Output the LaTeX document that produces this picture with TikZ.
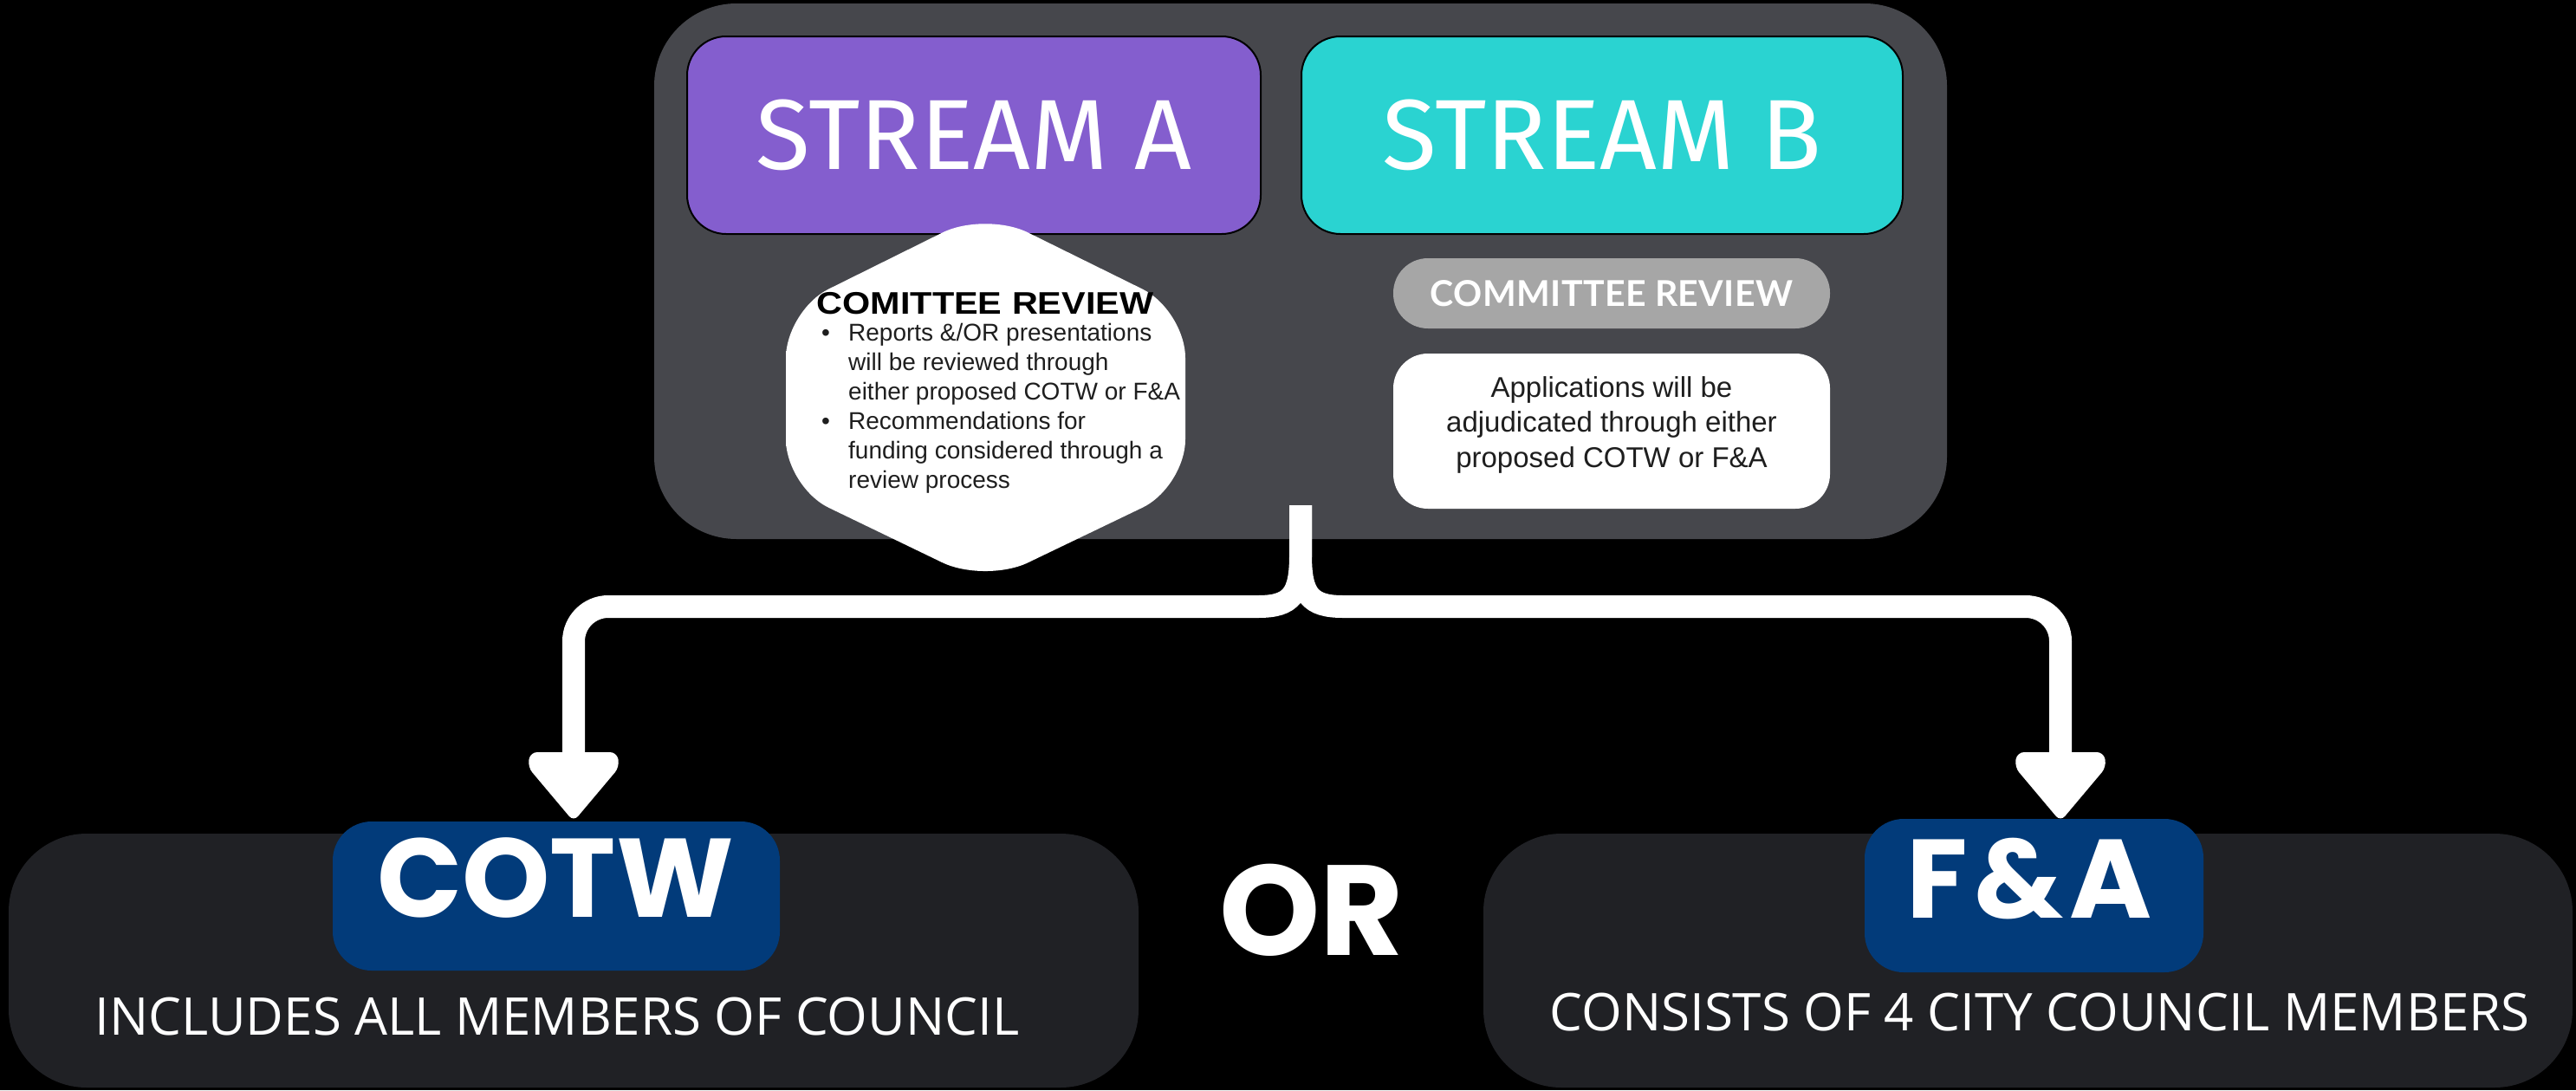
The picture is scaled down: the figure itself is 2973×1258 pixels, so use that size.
\documentclass[tikz,border=0pt]{standalone}
\usepackage{fontspec}
\setmainfont{Liberation Sans}
\newfontfamily\streamfont{Fira Sans}
\newfontfamily\hexfont{Liberation Sans}[FakeStretch=1.15]
\newfontfamily\pillfont{Lato}[LetterSpace=1]
\newfontfamily\geofont{Poppins}
\newfontfamily\geowidefont{Poppins}[LetterSpace=6]
\newfontfamily\osfont{Open Sans}
\definecolor{panelgray}{RGB}{70,71,76}
\definecolor{streamAcol}{RGB}{132,94,206}
\definecolor{streamBcol}{RGB}{42,211,209}
\definecolor{pillgray}{RGB}{166,166,166}
\definecolor{boxdark}{RGB}{32,33,37}
\definecolor{navy}{RGB}{2,59,122}
\definecolor{bodytext}{RGB}{30,30,30}
\tikzset{
  shapebox/.style={rectangle, inner sep=0pt, outer sep=0pt},
  panelbox/.style={shapebox, fill=panelgray, minimum width=1492pt, minimum height=618pt, rounded corners=95pt},
  streambox/.style={shapebox, draw=black, line width=2pt, minimum height=228pt, rounded corners=45pt, text=white,
    font={\streamfont\fontsize{115}{120}\selectfont}},
  pillbox/.style={shapebox, fill=pillgray, minimum width=504pt, minimum height=81pt, rounded corners=40pt, text=white,
    font={\pillfont\bfseries\fontsize{41}{46}\selectfont}},
  appbox/.style={shapebox, fill=white, minimum width=504pt, minimum height=179pt, rounded corners=40pt},
  darkbox/.style={shapebox, fill=boxdark, minimum height=293pt, rounded corners=90pt},
  bluebox/.style={shapebox, fill=navy, rounded corners=45pt},
  geotext/.style={inner sep=0pt, text=white, font={\geofont\bfseries\fontsize{129}{134}\selectfont}},
  ostext/.style={inner sep=0pt, text=white, font={\osfont\fontsize{60}{66}\selectfont}},
  conn/.style={draw=white, line width=26pt},
  arrowhd/.pic={\fill[white, rounded corners=8pt] (-50,-4) -- (50,-4) -- (53,13) -- (0,76) -- (-53,13) -- cycle;}
}
\begin{document}
\begin{tikzpicture}[x=1pt,y=-1pt]
\path[use as bounding box, fill=black] (0,0) rectangle (2973,1258);

% top panel
\node[panelbox] (panel) at (1501,313) {};
\node[streambox, fill=streamAcol, minimum width=662pt] (streamA) at (1124,156) {STREAM A};
\node[streambox, fill=streamBcol, minimum width=694pt] (streamB) at (1849,156) {STREAM B};

% hexagon
\path[fill=white, rounded corners=55pt] (907,460) -- (907,358) -- (1137,244) -- (1368,358) -- (1368,562) -- (1137,673) -- (907,562) -- cycle;
\node[anchor=base, inner sep=0pt, text=black, font={\hexfont\bfseries\fontsize{36}{40}\selectfont}] (hextitle) at (1137,362) {COMITTEE REVIEW};
\node[anchor=base west, inner sep=0pt, text=bodytext, font={\fontsize{28}{34}\selectfont}] (hexbody) at (948,393)
  {\begin{tabular}[t]{@{}p{31pt}@{}l@{}}
   \textbullet & Reports \&/OR presentations\\
   & will be reviewed through\\
   & either proposed COTW or F\&A\\
   \textbullet & Recommendations for\\
   & funding considered through a\\
   & review process
   \end{tabular}};

% stream B review
\node[pillbox] (pill) at (1860,338.5) {COMMITTEE REVIEW};
\node[appbox] (app) at (1860,497.5) {};
\node[align=center, inner sep=0pt, text=bodytext, font={\fontsize{33}{40.5}\selectfont}] (apptext) at (1860,490)
  {Applications will be\\adjudicated through either\\proposed COTW or F\&A};

% connectors
\coordinate (stem) at (1501,583);
\coordinate (junc) at (1501,640);
\coordinate (ltip) at (662,872);
\coordinate (rtip) at (2378,872);
\draw[conn] (stem) -- (junc) .. controls (1501,686) and (1491,700) .. (1452,700) [rounded corners=40pt] -- (662,700) -- (ltip);
\draw[conn] (stem) -- (junc) .. controls (1501,686) and (1511,700) .. (1550,700) [rounded corners=40pt] -- (2378,700) -- (rtip);
\pic at (ltip) {arrowhd};
\pic at (rtip) {arrowhd};

% bottom
\node[darkbox, minimum width=1304pt] (leftbox) at (662,1108.5) {};
\node[darkbox, minimum width=1257pt] (rightbox) at (2340.5,1108.5) {};
\node[bluebox, minimum width=516pt, minimum height=172pt] (cotwbox) at (642,1034) {};
\node[bluebox, minimum width=391pt, minimum height=177pt] (fabox) at (2347.5,1033.5) {};
\node[geotext] (cotw) at (641,1013.5) {COTW};
\node[geotext, font={\geowidefont\bfseries\fontsize{129}{134}\selectfont}] (fa) at (2342,1014.5) {F\&A};
\node[geotext, font={\geofont\bfseries\fontsize{148}{154}\selectfont}] (or) at (1514,1050) {OR};
\node[ostext] (inc) at (643,1173.5) {INCLUDES ALL MEMBERS OF COUNCIL};
\node[ostext] (cons) at (2354,1168.5) {CONSISTS OF 4 CITY COUNCIL MEMBERS};
\end{tikzpicture}
\end{document}
